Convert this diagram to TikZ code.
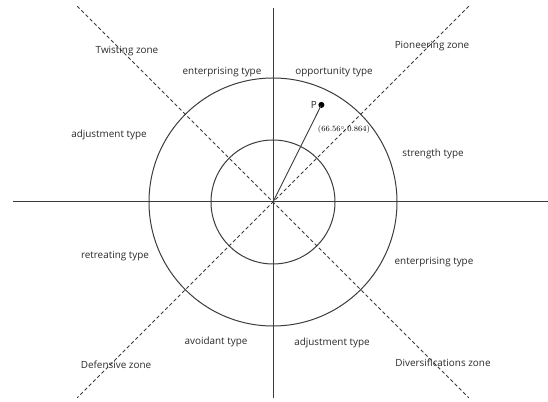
\documentclass[tikz,border=0pt]{standalone}
\usepackage{fontspec}
\setmainfont{Open Sans}
\usepackage{tikz}
\usetikzlibrary{arrows.meta}
\definecolor{ZoneInk}{HTML}{3C3C3C}
\definecolor{ZoneText}{HTML}{2A2A2A}

\begin{document}
\begin{tikzpicture}[x=1pt,y=1pt,font=\fontsize{9.9}{11}\selectfont,
    axis/.style={ZoneInk,line width=1pt},
    split/.style={ZoneInk,line width=0.85pt,dash pattern=on 3.5pt off 2.5pt},
    lab/.style={text=ZoneText,inner sep=1pt}]
  \useasboundingbox (-273,-199) rectangle (275,202);
  \node[inner sep=0pt] (O) at (0,0) {};
  % quadrant axes and the two dashed diagonals
  \draw[axis] (-260,0) -- (275,0);
  \draw[axis] (0,194) -- (0,-196);
  \foreach \a in {45,135}{\draw[split] (\a:277) -- (\a+180:277);}
  \draw[axis] (O) circle (62) (O) circle (124);
  % strategy point
  \fill (63.5:108.5) circle (3pt);
  \node[inner sep=0pt] (P) at (63.5:108.5) {};
  \draw[axis,line width=0.9pt] (O) -- (P);
  \node[lab,left=3.5pt] (Plab) at (P) {P};
  \node[inner sep=0pt,font=\fontsize{8}{9}\selectfont] (Pval) at (71,72) {$(66.56^\circ\!,0.864)$};
  % zones
  \node[lab] (twist) at (-146,151) {Twisting zone};
  \node[lab] (pion) at (159,156) {Pioneering zone};
  \node[lab] (defn) at (-157,-163) {Defensive zone};
  \node[lab] (divr) at (170,-161) {Diversifications zone};
  % types
  \node[lab] (entA) at (-51,130) {enterprising type};
  \node[lab] (oppo) at (61,130) {opportunity type};
  \node[lab] (adjA) at (-164,67) {adjustment type};
  \node[lab] (stre) at (160,48) {strength type};
  \node[lab] (retr) at (-158,-54) {retreating type};
  \node[lab] (entB) at (161,-60) {enterprising type};
  \node[lab] (avoi) at (-57,-140) {avoidant type};
  \node[lab] (adjB) at (59,-141) {adjustment type};
\end{tikzpicture}
\end{document}
